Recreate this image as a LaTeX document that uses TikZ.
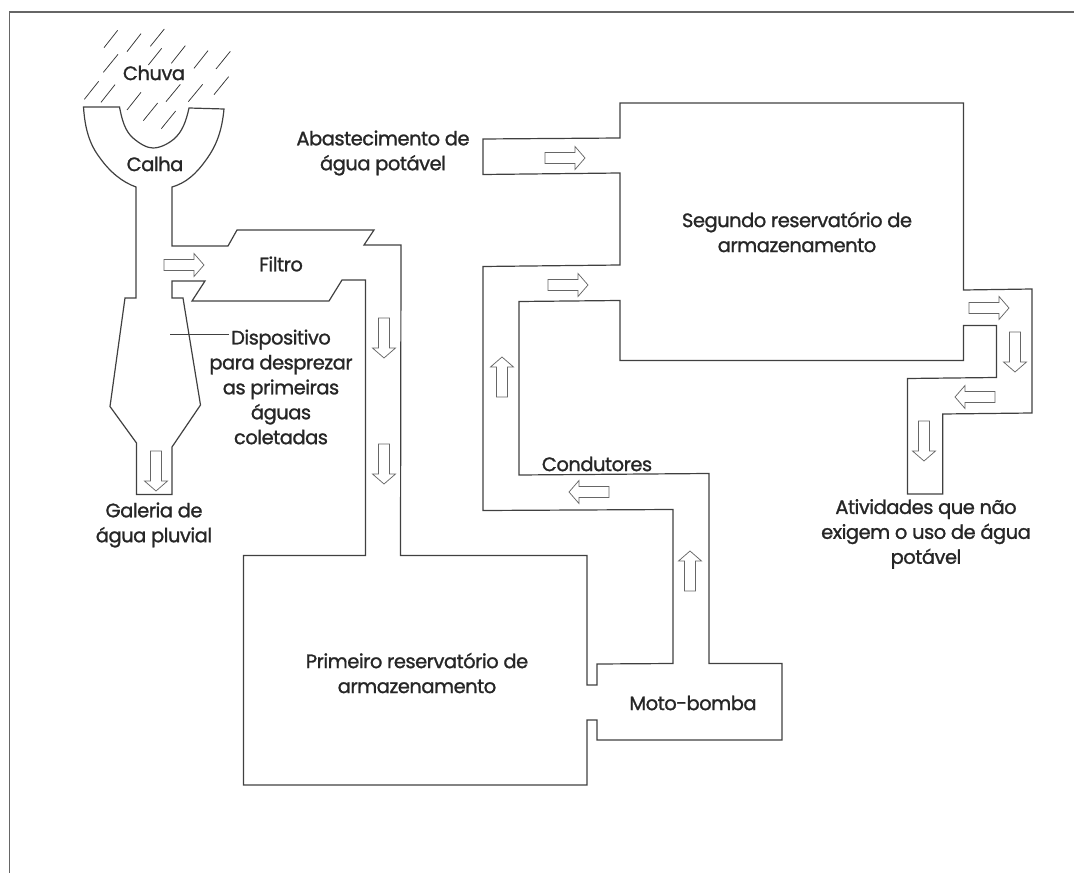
\documentclass[tikz,border=0pt]{standalone}
\usepackage{fontspec}
\setmainfont{Poppins}[FakeBold=1.2,LetterSpace=-2.5]
\tikzset{
  x=0.75pt,y=-0.75pt,
  pipe/.style={draw=black!75,line width=0.9pt,line join=miter},
  frameline/.style={draw=black!60,line width=1.4pt},
  rainline/.style={draw=black!80,line width=0.55pt},
  label/.style={font=\fontsize{14.6}{18.7}\selectfont,text=black!85,align=center,inner sep=0pt},
  flowarrow/.pic={\draw[draw=black!60,line width=0.55pt,fill=white]
    (-20,-5.5)--(10,-5.5)--(10,-11.5)--(20,0)--(10,11.5)--(10,5.5)--(-20,5.5)--cycle;}
}
\begin{document}
\begin{tikzpicture}
\useasboundingbox (0,0) rectangle (1074,873);
% frame
\draw[frameline] (9.5,873)--(9.5,12)--(1074,12);
% rain
\foreach \a/\b/\c/\d in {312/143/353/91,381/155/423/101,451/139/493/87,445/195/485/145,514/190/556/137,582/205/624/152,648/207/691/154,310/217/354/163,253/298/296/244,303/307/345/254,381/330/423/277,498/305/541/253,565/305/608/253,642/284/686/230,430/362/473/309,484/386/527/333}
  \draw[rainline] ({\a/3},{\b/3})--({\c/3},{\d/3});
% outline of the whole pipe system
\draw[pipe] (83.5,107)--(119.5,107)
  .. controls (122,120) and (125,131) .. (133,138)
  .. controls (140,144) and (147,148) .. (153,148)
  .. controls (160,148) and (168,144) .. (174,139)
  .. controls (182,132) and (186,122) .. (189,108)
  --(224,109)
  .. controls (222,130) and (217,145) .. (206,160)
  .. controls (196,174) and (186,183) .. (172,187)
  --(172,246)--(228,246)--(237,230)--(374,230)--(364,245)--(401,245)
  --(400.5,555.5)--(587,555.5)--(587,685)--(597,685)--(597,664)--(673,663.5)
  --(673,509.5)--(483,510.5)--(483,266.5)--(620,265)--(620,173)--(483,174.5)
  --(483,139)--(620,138)--(620,103)--(963.5,103)--(963.5,290)--(1032,289)
  --(1032,413)--(942.7,414)--(942.7,494)--(907.5,494)--(907.5,378.5)--(996.5,377.5)
  --(996.5,325.5)--(963.5,325.5)--(963.5,360.5)--(620,360.5)--(620,300.5)--(519,301.5)
  --(519,475)--(709,473.5)--(709,663.5)--(782,663.5)--(782,740)--(597,740)
  --(597,720)--(587,720)--(587,785)--(243.5,785)--(243.5,555.5)--(365.5,555.5)
  --(365.5,280)--(342,280)--(329,301)--(192,301)--(205,281)--(172,281)--(172,298)
  --(183,298)--(200.5,405)--(172,447)--(172,494.5)--(136.5,494.5)--(136.5,443)
  --(110,406.5)--(125,298)--(136,298)--(136,187)
  .. controls (122,182) and (110,172) .. (100,158)
  .. controls (90,145) and (85,130) .. (83.5,107)--cycle;
% leader
\coordinate (leadA) at (170,334.5);
\coordinate (leadB) at (229,334.5);
\draw[pipe] (leadA)--(leadB);
% flow arrows
\pic at (184,265) {flowarrow};
\pic[rotate=-90] at (156,471) {flowarrow};
\pic[rotate=-90] at (384,338) {flowarrow};
\pic[rotate=-90] at (384,464) {flowarrow};
\pic at (565,158) {flowarrow};
\pic at (568,285) {flowarrow};
\pic[rotate=90] at (502,377) {flowarrow};
\pic[rotate=180] at (589,492) {flowarrow};
\pic[rotate=90] at (690,571) {flowarrow};
\pic at (989,308) {flowarrow};
\pic[rotate=-90] at (1015,352) {flowarrow};
\pic[rotate=180] at (975,397) {flowarrow};
\pic[rotate=-90] at (924,441) {flowarrow};
% labels
\node[label] (chuva) at (154,73) {Chuva};
\node[label] (calha) at (155,164) {Calha};
\node[label] (filtro) at (281,264) {Filtro};
\node[label] (disp) at (281,387) {Dispositivo\\para desprezar\\as primeiras\\águas\\coletadas};
\node[label] (gal) at (154,525) {Galeria de\\água pluvial};
\node[label] (abast) at (383,153) {Abastecimento de\\água potável};
\node[label] (seg) at (797,232) {Segundo reservatório de\\armazenamento};
\node[label] (prim) at (417,673) {Primeiro reservatório de\\armazenamento};
\node[label] (moto) at (693,703) {Moto-bomba};
\node[label] (cond) at (597,464) {Condutores};
\node[label] (ativ) at (926,534) {Atividades que não\\exigem o uso de água\\potável};
\end{tikzpicture}
\end{document}
